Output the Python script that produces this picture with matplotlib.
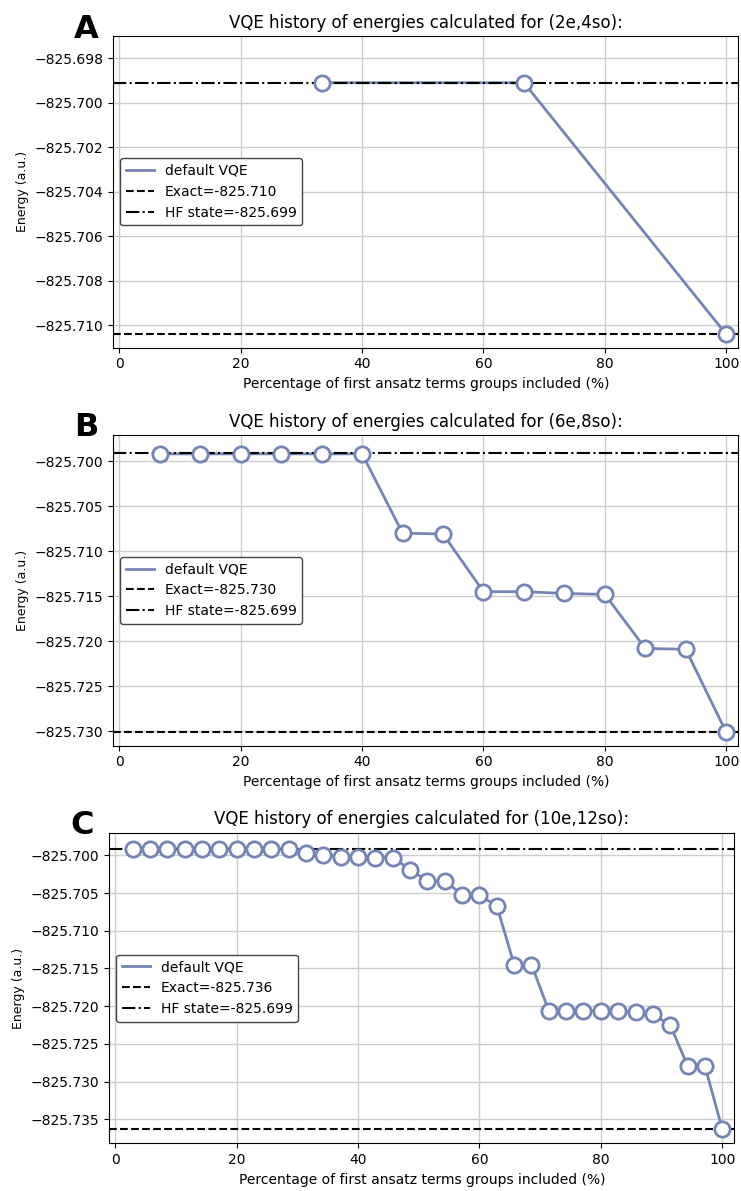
"""VQE energy history for three active spaces (panels A-C)."""

import matplotlib

matplotlib.use("Agg")
import matplotlib.pyplot as plt

# ---- data ----
hf_energy = -825.6991

titles = ["(2e,4so)", "(6e,8so)", "(10e,12so)"]
panel_letters = ["A", "B", "C"]
exact_energies = [-825.7104, -825.7301, -825.7363]

n_steps = [3, 15, 35]

vqe_a = [-825.6991, -825.6991, -825.7104]
vqe_b = [
    -825.6992, -825.6992, -825.6992, -825.6992, -825.6992, -825.6992,
    -825.7080, -825.7081, -825.7145, -825.7145, -825.7147, -825.7148,
    -825.7208, -825.7209, -825.7301,
]
vqe_c = [
    -825.6991, -825.6991, -825.6991, -825.6991, -825.6991,
    -825.6991, -825.6991, -825.6991, -825.6991, -825.6991,
    -825.6997, -825.6999, -825.7002, -825.7002, -825.7003, -825.7003,
    -825.7019, -825.7034, -825.7034, -825.7052, -825.7053, -825.7067,
    -825.7145, -825.7145, -825.7206, -825.7206, -825.7206, -825.7206,
    -825.7207, -825.7208, -825.7211, -825.7225, -825.7279, -825.7279,
    -825.7363,
]
histories = [vqe_a, vqe_b, vqe_c]

y_limits = [(-825.7110, -825.6970), (-825.7316, -825.6971), (-825.7382, -825.6970)]
y_ticks = [
    [-825.698 - 0.002 * i for i in range(7)],
    [-825.700 - 0.005 * i for i in range(7)],
    [-825.700 - 0.005 * i for i in range(8)],
]

# axes boxes in figure fractions (left, bottom, width, height)
boxes = [
    (0.1529, 0.7081, 0.8435, 0.2617),
    (0.1529, 0.3739, 0.8435, 0.2609),
    (0.1475, 0.0400, 0.8435, 0.2608),
]
letter_pos = [(0.116, 0.975), (0.116, 0.641), (0.111, 0.307)]

line_color = "#7584b5"

fig = plt.figure(figsize=(7.41, 11.91), dpi=100)

for i in range(3):
    ax = fig.add_axes(boxes[i])
    n = n_steps[i]
    xs = [100.0 * (k + 1) / n for k in range(n)]
    ys = histories[i]

    ax.plot(xs, ys, "-", color=line_color, lw=2, label="default VQE", zorder=2)
    ax.axhline(exact_energies[i], color="black", ls="--", lw=1.5,
               label=f"Exact={exact_energies[i]:.3f}", zorder=2)
    ax.axhline(hf_energy, color="black", ls="-.", lw=1.5,
               label=f"HF state={hf_energy:.3f}", zorder=2)
    ax.plot(xs, ys, "o", ls="none", color=line_color, mfc="white", mec=line_color,
            ms=11, mew=2, zorder=3)

    ax.set_xlim(-1, 102)
    ax.set_ylim(*y_limits[i])
    ax.set_yticks(y_ticks[i])
    ax.set_xticks([0, 20, 40, 60, 80, 100])
    ax.grid(True, color="#cccccc", lw=1)
    ax.set_axisbelow(True)
    ax.set_title(f"VQE history of energies calculated for {titles[i]}:", fontsize=12)
    ax.set_xlabel("Percentage of first ansatz terms groups included (%)", fontsize=10)
    ax.set_ylabel("Energy (a.u.)", fontsize=9)
    ax.legend(loc="center left", fontsize=10, framealpha=1, edgecolor="#444444")

    fig.text(letter_pos[i][0], letter_pos[i][1], panel_letters[i],
             fontsize=23, fontweight="bold", ha="center", va="center")

fig.savefig("out.png", dpi=100)
